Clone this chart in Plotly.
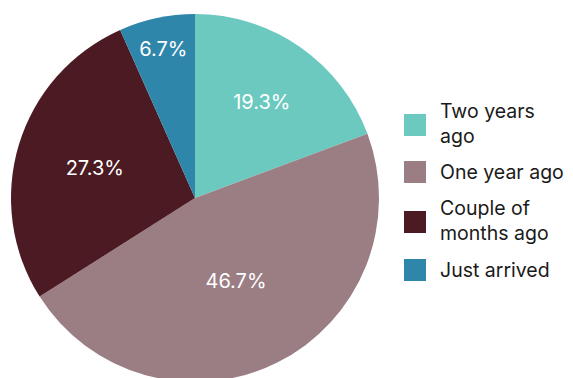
import plotly.graph_objects as go

labels = ["Two years ago", "One year ago", "Couple of months ago", "Just arrived"]
legend_text = ["Two years<br>ago", "One year ago", "Couple of<br>months ago", "Just arrived"]
values = [29, 70, 41, 10]
colors = ["#6CC9C0", "#9B7E84", "#4B1A22", "#2E86AB"]

W, H = 573, 378
ML, MR, MT, MB = 0, 0, 6, 4
PW, PH = W - ML - MR, H - MT - MB
FONT = "Inter"
FS = 19.5

fig = go.Figure(go.Pie(
    labels=labels, values=values, sort=False, direction="clockwise", rotation=0,
    marker=dict(colors=colors, line=dict(width=0)),
    texttemplate="%{percent:.1%}", textposition="inside",
    insidetextorientation="horizontal",
    textfont=dict(family=FONT, size=20, color="white"),
    domain=dict(x=[0, 374 / PW], y=[0, 1]),
    showlegend=False, hoverinfo="label+percent",
))

def px_x(x):
    return (x - ML) / PW

def px_y(y):
    return 1 - (y - MT) / PH

legend_centers = [117, 164, 214, 262]
shapes, annots = [], []
for txt, col, cy in zip(legend_text, colors, legend_centers):
    shapes.append(dict(type="rect", xref="paper", yref="paper",
                       x0=px_x(396), x1=px_x(418), y0=px_y(cy - 11), y1=px_y(cy + 11),
                       fillcolor=col, line=dict(width=0)))
    annots.append(dict(xref="paper", yref="paper", x=px_x(430), y=px_y(cy - (2 if "<br>" in txt else 0)),
                       xanchor="left", yanchor="middle", align="left", showarrow=False,
                       text=txt, font=dict(family=FONT, size=FS, color="#1a1a1a")))

fig.update_layout(
    width=W, height=H, margin=dict(l=ML, r=MR, t=MT, b=MB),
    paper_bgcolor="white", plot_bgcolor="white",
    font=dict(family=FONT),
    shapes=shapes, annotations=annots,
)
fig.write_html("out.html")
